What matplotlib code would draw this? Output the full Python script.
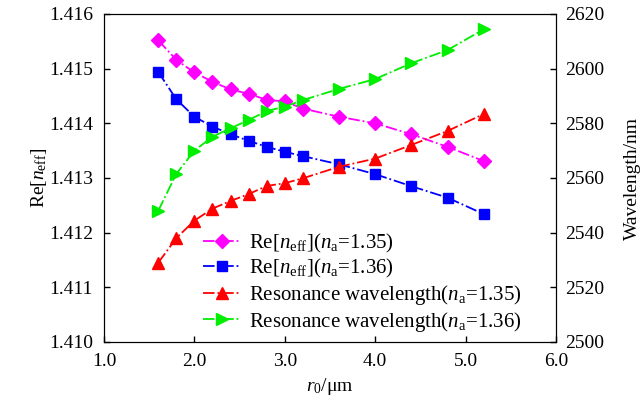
import matplotlib
matplotlib.use('Agg')
import matplotlib.pyplot as plt

plt.rcParams['font.family'] = 'Liberation Serif'
plt.rcParams['mathtext.fontset'] = 'custom'
plt.rcParams['mathtext.rm'] = 'Liberation Serif'
plt.rcParams['mathtext.it'] = 'Liberation Serif:italic'
plt.rcParams['font.size'] = 14

# radius r0 (um)
r0 = [1.6, 1.8, 2.0, 2.2, 2.4, 2.6, 2.8, 3.0, 3.2, 3.6, 4.0, 4.4, 4.8, 5.2]

# Re[n_eff]
neff_135 = [1.41552, 1.41516, 1.41493, 1.41476, 1.41462, 1.41454, 1.41443,
            1.41440, 1.41427, 1.41412, 1.41400, 1.41380, 1.41357, 1.41331]
neff_136 = [1.41494, 1.41444, 1.41412, 1.41394, 1.41380, 1.41368, 1.41357,
            1.41348, 1.41340, 1.41325, 1.41307, 1.41285, 1.41264, 1.41234]

# resonance wavelength (nm)
wl_135 = [2529.0, 2538.0, 2544.4, 2548.8, 2551.6, 2554.1, 2557.1,
          2558.1, 2559.9, 2564.1, 2567.1, 2572.1, 2577.2, 2583.4]
wl_136 = [2548.0, 2561.5, 2570.0, 2575.1, 2578.2, 2581.2, 2584.5,
          2586.1, 2588.5, 2592.6, 2596.2, 2602.0, 2606.8, 2614.4]

fig = plt.figure(figsize=(6.44, 4.12), dpi=100)
ax = fig.add_axes([104/644, 1-342/412, 452/644, 328/412])
ax2 = ax.twinx()

l1, = ax.plot(r0, neff_135, '-.', color='#ff00ff', marker='D', ms=7, lw=1.3,
              label=r'Re[$\mathit{n}_{\rm eff}$]($\mathit{n}_{\rm a}$=1.35)')
l2, = ax.plot(r0, neff_136, '-.', color='#0000ff', marker='s', ms=6.5, lw=1.3,
              label=r'Re[$\mathit{n}_{\rm eff}$]($\mathit{n}_{\rm a}$=1.36)')
l3, = ax2.plot(r0, wl_135, '-.', color='#ff0000', marker='^', ms=8, lw=1.3,
               label=r'Resonance wavelength($\mathit{n}_{\rm a}$=1.35)')
l4, = ax2.plot(r0, wl_136, '-.', color='#00ee00', marker='>', ms=8, lw=1.3,
               label=r'Resonance wavelength($\mathit{n}_{\rm a}$=1.36)')

ax.set_xlim(1.0, 6.0)
ax.set_ylim(1.410, 1.416)
ax2.set_ylim(2500, 2620)
ax.set_xticks([1.0, 2.0, 3.0, 4.0, 5.0, 6.0])
ax.set_xticklabels(['1.0', '2.0', '3.0', '4.0', '5.0', '6.0'])
ax.set_yticks([1.410, 1.411, 1.412, 1.413, 1.414, 1.415, 1.416])
ax.set_yticklabels(['1.410', '1.411', '1.412', '1.413', '1.414', '1.415', '1.416'])
ax2.set_yticks(range(2500, 2621, 20))

ax.tick_params(direction='in', length=4, width=1, pad=8)
ax2.tick_params(direction='in', length=4, width=1, pad=6.5)

ax.set_xlabel(r'$\mathit{r}_{0}$/μm', labelpad=4)
ax.set_ylabel(r'Re[$\mathit{n}_{\rm eff}$]', labelpad=0)
ax2.set_ylabel('Wavelength/nm', labelpad=14)

ax2.legend(handles=[l1, l2, l3, l4], loc='lower right', frameon=False,
           bbox_to_anchor=(0.942, 0.0), borderaxespad=0, fontsize=15,
           handlelength=1.8, handletextpad=0.4, labelspacing=0.13)

fig.savefig('out.png', dpi=100)
